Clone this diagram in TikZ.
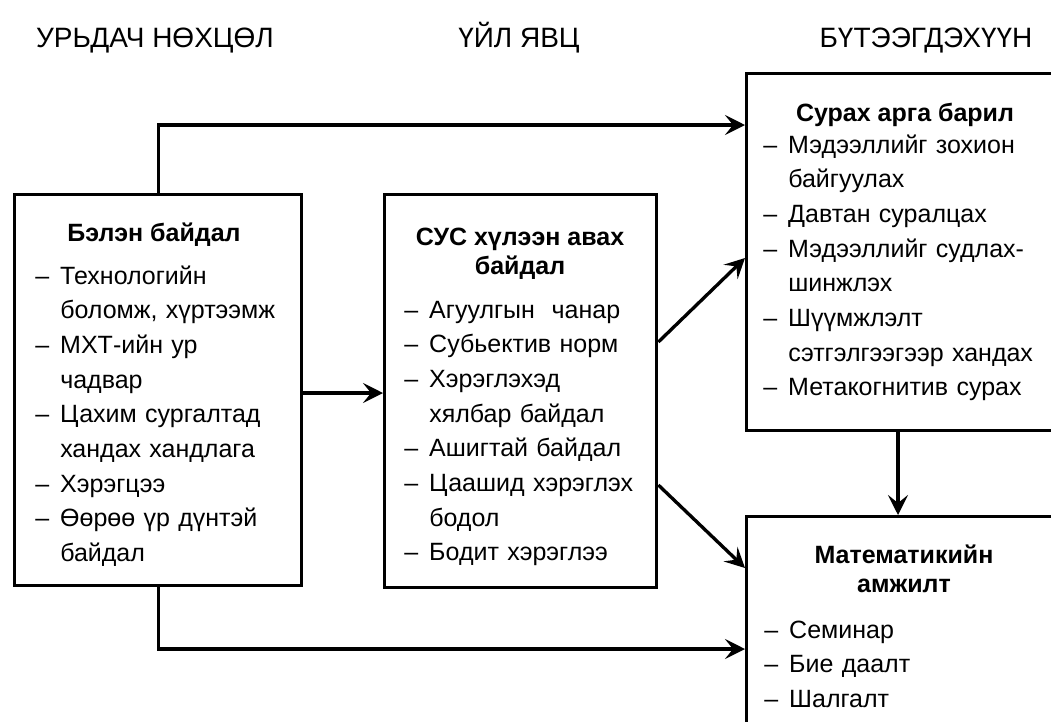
\documentclass[tikz,border=0pt]{standalone}
\usepackage{fontspec}
\setmainfont{Liberation Sans}
\usetikzlibrary{arrows.meta}

% list helpers: a dash followed by the item text, and an indented continuation line
\newcommand{\itm}{\makebox[18.75pt][l]{–}}
\newcommand{\cnt}{\hspace*{18.75pt}}

\begin{document}
\begin{tikzpicture}[x=0.75pt,y=-0.75pt,
  box/.style={draw, line width=2.5pt, rectangle, inner sep=0pt, anchor=north west},
  conn/.style={line width=2.5pt, -{Stealth[length=15pt,width=15pt,inset=6pt]}},
  hdr/.style={font=\fontsize{21}{25}\selectfont, anchor=base, inner sep=0pt},
  ttl/.style={font=\fontsize{18.75}{21.4}\selectfont\bfseries, align=center, anchor=base, inner sep=0pt},
  lst/.style={font=\fontsize{18.75}{26}\selectfont, align=left, text width=230pt, anchor=base west, inner sep=0pt}]

\useasboundingbox[fill=white] (0,0) rectangle (1051,722);

% column headings
\node[hdr] (h1) at (155,47) {УРЬДАЧ НӨХЦӨЛ};
\node[hdr] (h2) at (519,47) {ҮЙЛ ЯВЦ};
\node[hdr] (h3) at (926,47) {БҮТЭЭГДЭХҮҮН};

% boxes
\node[box, minimum width=215.25pt, minimum height=293.25pt] (L) at (13,193) {};
\node[box, minimum width=204pt,    minimum height=294.75pt] (C) at (383,193) {};
\node[box, minimum width=236.25pt, minimum height=267.75pt] (TR) at (745,72) {};
\node[box, minimum width=236.25pt, minimum height=183.75pt] (M) at (745,515) {};

% box contents (two-line titles are placed by the baseline of their last line)
\node[ttl] (Lt) at (154,241) {Бэлэн байдал};
\node[lst] (Ll) at (35,284) {\itm Технологийн\\
  \cnt боломж, хүртээмж\\
  \itm МХТ-ийн ур\\
  \cnt чадвар\\
  \itm Цахим сургалтад\\
  \cnt хандах хандлага\\
  \itm Хэрэгцээ\\
  \itm Өөрөө үр дүнтэй\\
  \cnt байдал};

\node[ttl] (Ct) at (520,274) {СУС хүлээн авах\\байдал};
\node[lst] (Cl) at (404,318) {\itm Агуулгын\ \ чанар\\
  \itm Субьектив норм\\
  \itm Хэрэглэхэд\\
  \cnt хялбар байдал\\
  \itm Ашигтай байдал\\
  \itm Цаашид хэрэглэх\\
  \cnt бодол\\
  \itm Бодит хэрэглээ};

\node[ttl] (TRt) at (905,121) {Сурах арга барил};
\node[lst] (TRl) at (763,153) {\itm Мэдээллийг зохион\\
  \cnt байгуулах\\
  \itm Давтан суралцах\\
  \itm Мэдээллийг судлах-\\
  \cnt шинжлэх\\
  \itm Шүүмжлэлт\\
  \cnt сэтгэлгээгээр хандах\\
  \itm Метакогнитив сурах};

\node[ttl] (Mt) at (904,592) {Математикийн\\амжилт};
\node[lst] (Ml) at (764,638) {\itm Семинар\\
  \itm Бие даалт\\
  \itm Шалгалт};

% connectors
\draw[conn] (L.north) -- (L.north |- 0,125) -- (TR.west |- 0,125);
\draw[conn] (L.south) -- (L.south |- 0,649) -- (M.west |- 0,649);
\draw[conn] (L.east |- 0,393) -- (C.west |- 0,393);
\draw[conn] (C.east |- 0,342) -- (TR.west |- 0,258);
\draw[conn] (C.east |- 0,485) -- (M.west |- 0,568);
\draw[conn] (TR.south -| 898,0) -- (M.north -| 898,0);
\end{tikzpicture}
\end{document}
